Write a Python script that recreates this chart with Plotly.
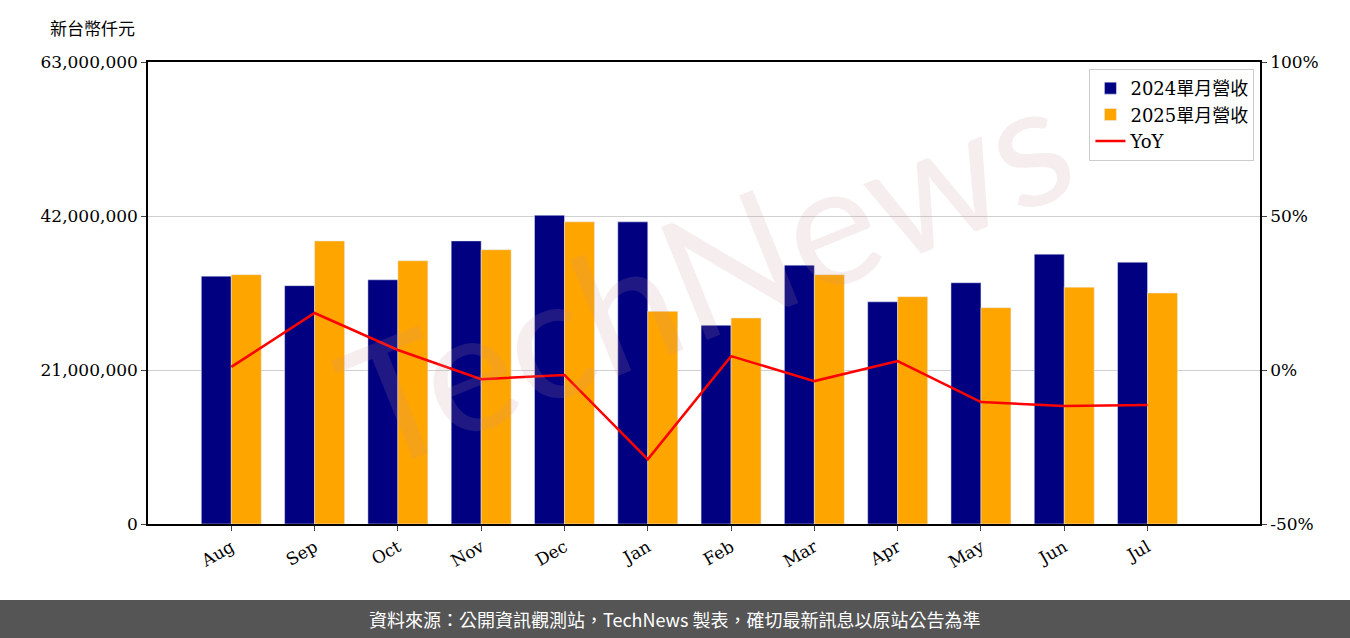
import plotly.graph_objects as go

months = ["Aug", "Sep", "Oct", "Nov", "Dec", "Jan", "Feb", "Mar", "Apr", "May", "Jun", "Jul"]
rev_2024 = [33.8, 32.5, 33.3, 38.6, 42.1, 41.2, 27.1, 35.3, 30.3, 32.9, 36.8, 35.7]
rev_2025 = [34.0, 38.6, 35.9, 37.4, 41.2, 29.0, 28.1, 34.0, 31.0, 29.5, 32.3, 31.5]
yoy = [1.0, 18.5, 6.5, -3.0, -1.6, -29.0, 4.5, -3.6, 2.9, -10.4, -11.7, -11.4]
yoy_ticks = [-50, 0, 50, 100]

rev_2024 = [v * 1e6 for v in rev_2024]
rev_2025 = [v * 1e6 for v in rev_2025]

font = "DejaVu Serif, Noto Sans CJK TC"
W, H = 1350, 638
L, R, T, B = 148, 90, 62, 114
ph = H - T - B
pw = W - L - R

fig = go.Figure()
fig.add_bar(x=months, y=rev_2024, name="2024單月營收", marker_color="#000080")
fig.add_bar(x=months, y=rev_2025, name="2025單月營收", marker_color="#FFA500")
fig.add_scatter(x=months, y=yoy, name="YoY", mode="lines", yaxis="y2",
                line=dict(color="#FF0000", width=2.5))

fig.update_layout(
    width=W, height=H, margin=dict(l=L, r=R, t=T, b=B, autoexpand=False),
    plot_bgcolor="white", paper_bgcolor="white",
    font=dict(family=font, size=17, color="black"),
    barmode="group", bargap=0.28, bargroupgap=0,
    xaxis=dict(range=[-1.0, 12.35], tickangle=-30, showline=True, mirror=True,
               linecolor="black", linewidth=1.5, ticks="outside", ticklen=5,
               tickfont=dict(size=17)),
    yaxis=dict(range=[0, 63e6], tickvals=[0, 21e6, 42e6, 63e6], tickformat=",d",
               showgrid=True, gridcolor="#d0d0d0", showline=True, linecolor="black",
               linewidth=1.5, ticks="outside", ticklen=5, zeroline=False),
    yaxis2=dict(range=[-50, 100], overlaying="y", side="right",
                tickvals=yoy_ticks, ticktext=[f"{v}%" for v in yoy_ticks],
                showgrid=False, ticks="outside", ticklen=5, zeroline=False,
                showline=True, linecolor="black", linewidth=1.5),
    legend=dict(x=0.995, y=0.985, xanchor="right", yanchor="top",
                bordercolor="#cccccc", borderwidth=1, bgcolor="white",
                font=dict(size=18)),
    showlegend=True,
)

fig.add_annotation(text="TechNews", xref="paper", yref="paper", x=0.5, y=0.55,
                   showarrow=False, textangle=-22,
                   font=dict(size=170, color="rgba(200,150,150,0.16)", family="Lato"))
fig.add_annotation(text="新台幣仟元", xref="paper", yref="paper", x=-100 / pw,
                   y=1 + 35 / ph, xanchor="left", yanchor="middle", showarrow=False,
                   font=dict(size=17, family="Noto Sans CJK TC"))
fig.add_shape(type="rect", xref="paper", yref="paper",
              x0=-L / pw, x1=1 + R / pw,
              y0=-B / ph, y1=-(600 - T - ph) / ph,
              fillcolor="#555555", line_width=0, layer="below")
fig.add_annotation(text="資料來源：公開資訊觀測站，TechNews 製表，確切最新訊息以原站公告為準",
                   xref="paper", yref="paper", x=(675 - L) / pw, xanchor="center",
                   y=-(619 - T - ph) / ph, yanchor="middle", showarrow=False,
                   font=dict(size=18, color="white", family="Noto Sans CJK TC"))

fig.write_html("out.html", post_script="document.body.style.margin='0';",
               config={"displayModeBar": False})
